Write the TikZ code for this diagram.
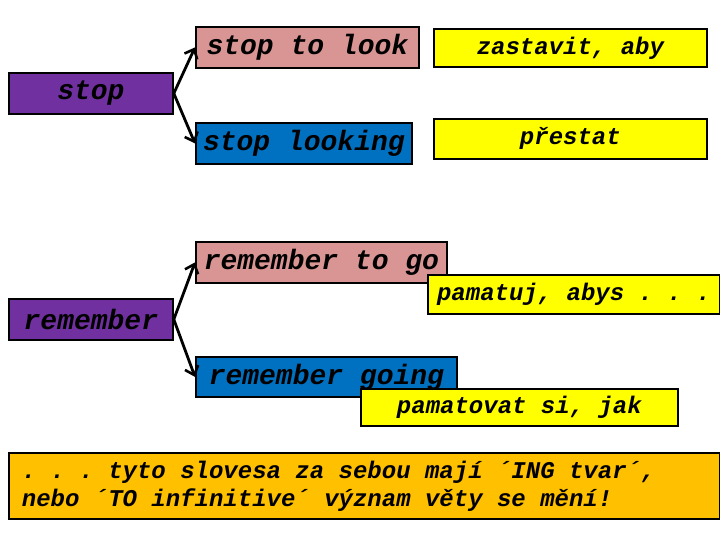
\documentclass[tikz,border=0pt]{standalone}
\usepackage{fontspec}
\setmonofont{Liberation Mono}[WordSpace={1,0,0}]
\usetikzlibrary{positioning,arrows.meta,shadows}
\definecolor{VerbPurple}{HTML}{7030A0}
\definecolor{ToPink}{HTML}{D99594}
\definecolor{IngBlue}{HTML}{0070C0}
\definecolor{NoteYellow}{HTML}{FFFF00}
\definecolor{NoteOrange}{HTML}{FFC000}
\tikzset{
  box/.style={draw=black, line width=1.8pt, inner sep=0pt, anchor=north west,
    font=\ttfamily\bfseries\itshape\frenchspacing\fontsize{28}{30}\selectfont,
    drop shadow={shadow xshift=1.5pt, shadow yshift=-1.5pt, fill=black!35}},
  verbbox/.style={box, fill=VerbPurple},
  tobox/.style={box, fill=ToPink},
  ingbox/.style={box, fill=IngBlue},
  meaningbox/.style={box, fill=NoteYellow, font=\ttfamily\bfseries\itshape\frenchspacing\fontsize{24}{26}\selectfont},
  branch/.style={-{Straight Barb[length=8pt,width=14pt,line width=2.6pt]}, line width=2.8pt}
}
\begin{document}
\begin{tikzpicture}[x=1pt,y=-1pt]
  \useasboundingbox (0,0) rectangle (720,540);
  % stop
  \node[verbbox, minimum width=164pt, minimum height=41pt] (stop) at (8,72) {stop};
  \node[tobox, minimum width=223pt, minimum height=41pt] (stoptolook) at (195,26) {stop to look};
  \node[meaningbox, minimum width=273pt, minimum height=38pt] (zastavit) at (433,28) {zastavit, aby};
  \node[ingbox, minimum width=216pt, minimum height=41pt] (stoplooking) at (195,122) {stop looking};
  \node[meaningbox, minimum width=273pt, minimum height=40pt] (prestat) at (433,118) {přestat};
  \draw[branch] (stop.east) -- (stoptolook.west);
  \draw[branch] (stop.east) -- (stoplooking.west);
  % remember
  \node[verbbox, minimum width=164pt, minimum height=41pt] (remember) at (8,298) {remember};
  \node[tobox, minimum width=251pt, minimum height=41pt] (remembertogo) at (195,241) {remember to go};
  \node[meaningbox, minimum width=292pt, minimum height=39pt] (pamatuj) at (427,274) {pamatuj, abys . . .};
  \node[ingbox, minimum width=261pt, minimum height=40pt] (remembergoing) at (195,356) {remember going};
  \node[meaningbox, minimum width=317pt, minimum height=37pt] (pamatovat) at (360,388) {pamatovat si, jak};
  \draw[branch] (remember.east) -- (remembertogo.west);
  \draw[branch] (remember.east) -- (remembergoing.west);
  % poznamka
  \node[meaningbox, fill=NoteOrange, minimum width=711pt, minimum height=66pt, inner xsep=13pt,
    text width=685pt, align=left, font=\ttfamily\bfseries\itshape\frenchspacing\fontsize{24}{28}\selectfont] (note) at (8,452)
    {\spaceskip=0pt\xspaceskip=0pt . . . tyto slovesa za sebou mají ´ING tvar´,\\nebo ´TO infinitive´ význam věty se mění!};
\end{tikzpicture}
\end{document}
